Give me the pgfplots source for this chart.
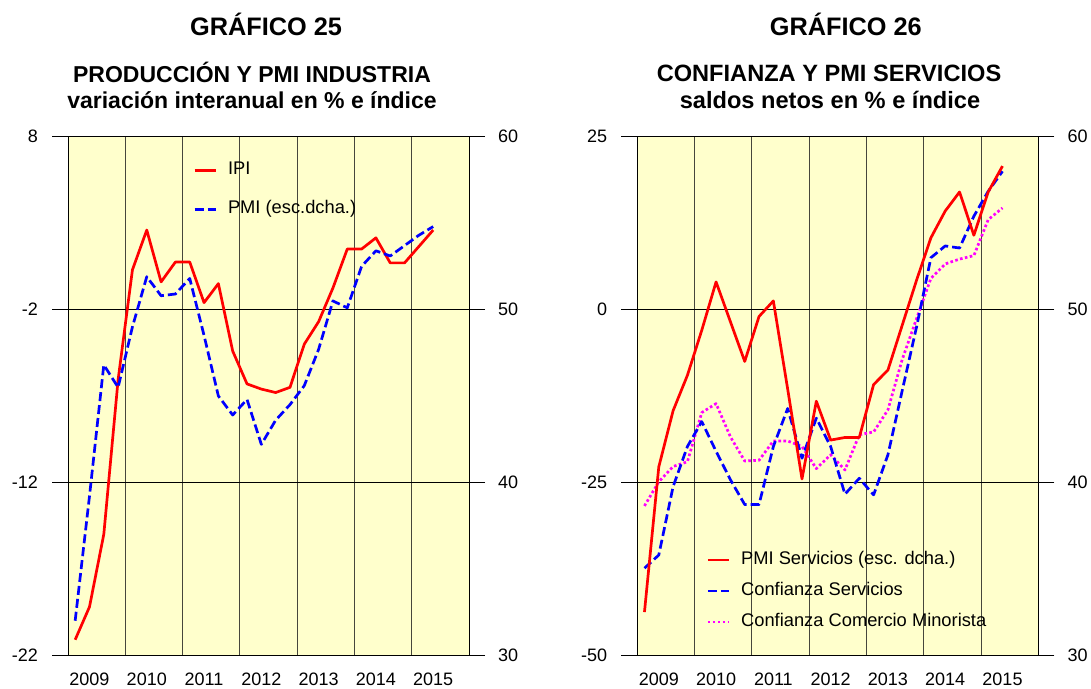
\documentclass[border=0pt]{standalone}
\usepackage{pgfplots}
\usepackage{pgfplotstable}
\pgfplotsset{compat=1.18}
\usepackage{fontspec}
\setmainfont{Liberation Sans}
\definecolor{bgy}{RGB}{255,255,204}
\definecolor{gridc}{RGB}{70,70,60}
\definecolor{mag}{RGB}{255,0,255}

\pgfplotstableread{
x ipi pmi
0.125 -21.1 32.0
0.375 -19.2 39.2
0.625 -15.0 46.8
0.875 -6.05 45.5
1.125 0.3 49.0
1.375 2.6 51.9
1.625 -0.4 50.8
1.875 0.75 50.9
2.125 0.75 51.8
2.375 -1.6 48.5
2.625 -0.5 45.0
2.875 -4.4 43.9
3.125 -6.3 44.8
3.375 -6.6 42.2
3.625 -6.8 43.6
3.875 -6.5 44.5
4.125 -4.0 45.6
4.375 -2.7 47.7
4.625 -0.75 50.5
4.875 1.5 50.1
5.125 1.5 52.5
5.375 2.15 53.4
5.625 0.7 53.1
5.875 0.7 53.7
6.125 1.65 54.3
6.375 2.6 54.8
}\tabind

\pgfplotstableread{
x pmis cs ccm
0.125 32.5 -37.4 -28.4
0.375 40.9 -35.5 -24.9
0.625 44.15 -25.6 -22.7
0.875 46.2 -19.8 -22.0
1.125 48.8 -16.2 -14.9
1.375 51.6 -20.5 -13.6
1.625 49.3 -24.6 -18.4
1.875 47.0 -28.2 -21.9
2.125 49.6 -28.2 -21.8
2.375 50.5 -19.8 -19.0
2.625 45.4 -14.3 -19.0
2.875 40.2 -21.5 -19.8
3.125 44.7 -15.7 -23.0
3.375 42.45 -19.8 -21.0
3.625 42.6 -26.7 -23.2
3.875 42.6 -24.4 -18.1
4.125 45.66 -26.8 -17.7
4.375 46.5 -21.0 -14.5
4.625 49.1 -11.7 -7.2
4.875 51.7 -2.5 -1.3
5.125 54.15 7.5 4.5
5.375 55.7 9.2 6.6
5.625 56.8 8.9 7.3
5.875 54.3 13.5 7.8
6.125 56.8 17.1 13.0
6.375 58.3 20.0 14.7
}\tabserv

\pgfplotsset{
  base/.style={
    scale only axis, width=401pt, height=518.6pt,
    xmin=0, xmax=7,
    tick align=outside,
    major tick length=16pt,
    /pgf/number format/assume math mode=true,
    tick label style={font=\fontsize{18}{21.6}\selectfont},
    axis line style={line width=0.9pt},
    major tick style={black, line width=0.9pt},
  },
  front/.style={
    axis background/.style={fill=bgy},
    ytick pos=left,
    ymajorgrids, major grid style={black, line width=1pt},
    xtick={0.375,1.375,2.375,3.375,4.375,5.375,6.375},
    xticklabels={2009,2010,2011,2012,2013,2014,2015},
    xtick style={draw=none},
    minor xtick={1,2,3,4,5,6},
    xminorgrids, minor grid style={gridc, line width=1pt},
    minor tick length=0pt,
    xticklabel style={anchor=north, inner sep=0pt, yshift=-1.4pt},
    yticklabel style={anchor=east, inner sep=0pt, xshift=-14pt},
  },
  back/.style={
    axis x line=none, axis y line*=right,
    yticklabel style={anchor=west, inner sep=0pt, xshift=13pt},
    ymin=30, ymax=60, ytick={30,40,50,60},
    legend cell align=left,
    legend image code/.code={\draw[##1] (0pt,0pt) -- (21pt,0pt);},
  },
  lgd/.style={
    draw=none, fill=none, inner sep=0pt, column sep=11pt,
    font=\fontsize{18.3}{22}\selectfont,
    nodes={inner sep=0pt, text height=13pt, text depth=4pt},
  },
  redl/.style={red, line width=2.7pt, line join=round},
  bluel/.style={blue, line width=2.7pt, line join=round, dash pattern=on 9pt off 4pt},
  magl/.style={mag, line width=2.7pt, line join=round, dash pattern=on 2.6pt off 2.4pt},
}

\begin{document}
\begin{tikzpicture}
\useasboundingbox (0pt,0pt) rectangle (1091pt,688pt);

% ---------- left panel ----------
\begin{axis}[base, front, at={(68pt,32.7pt)}, anchor=south west,
  ymin=-22, ymax=8, ytick={-22,-12,-2,8}]
  \addplot[redl] table[x=x, y=ipi] {\tabind};
\end{axis}
\begin{axis}[base, back, at={(68pt,32.7pt)}, anchor=south west,
  legend style={lgd, at={(0.312,0.952)}, anchor=north west, row sep=22pt}]
  \addlegendimage{redl}
  \addlegendentry{IPI}
  \addplot[bluel] table[x=x, y=pmi] {\tabind};
  \addlegendentry{PMI (esc.dcha.)}
\end{axis}

% ---------- right panel ----------
\begin{axis}[base, front, at={(637.3pt,32.7pt)}, anchor=south west,
  ymin=-50, ymax=25, ytick={-50,-25,0,25}]
  \addplot[magl] table[x=x, y=ccm] {\tabserv};
  \addplot[bluel] table[x=x, y=cs] {\tabserv};
\end{axis}
\begin{axis}[base, back, at={(637.3pt,32.7pt)}, anchor=south west,
  legend style={lgd, at={(0.172,0.2007)}, anchor=north west, row sep=14pt}]
  \addplot[redl] table[x=x, y=pmis] {\tabserv};
  \addlegendentry{PMI Servicios (esc. dcha.)}
  \addlegendimage{bluel}
  \addlegendentry{Confianza Servicios}
  \addlegendimage{magl}
  \addlegendentry{Confianza Comercio Minorista}
\end{axis}

% ---------- titles ----------
\node[anchor=base, font=\fontsize{25.3}{30}\selectfont\bfseries] at (266pt,652.3pt) {GRÁFICO 25};
\node[anchor=base, font=\fontsize{23}{28}\selectfont\bfseries] at (252pt,605.3pt) {PRODUCCIÓN Y PMI INDUSTRIA};
\node[anchor=base, font=\fontsize{23}{28}\selectfont\bfseries] at (252pt,579.7pt) {variación interanual en \% e índice};
\node[anchor=base, font=\fontsize{25.3}{30}\selectfont\bfseries] at (845.8pt,652.3pt) {GRÁFICO 26};
\node[anchor=base, font=\fontsize{23.6}{28}\selectfont\bfseries] at (829pt,606.3pt) {CONFIANZA Y PMI SERVICIOS};
\node[anchor=base, font=\fontsize{23.6}{28}\selectfont\bfseries] at (830pt,579.7pt) {saldos netos en \% e índice};
\end{tikzpicture}
\end{document}
